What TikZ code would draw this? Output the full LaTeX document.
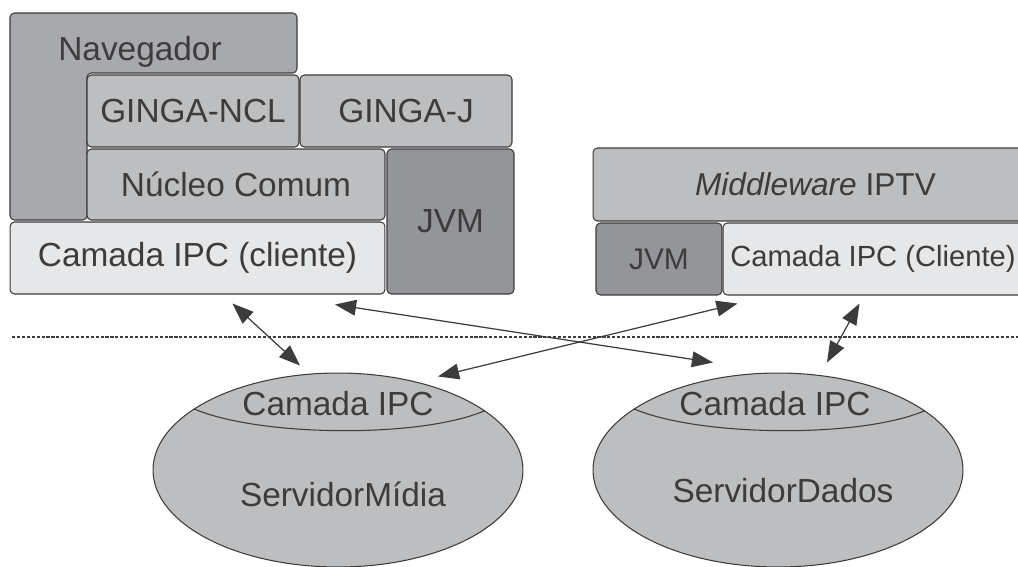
\documentclass[tikz,border=0pt]{standalone}
\usepackage{fontspec}
\setmainfont{Liberation Sans}
\usetikzlibrary{shapes.geometric,arrows.meta}

\definecolor{grayA}{HTML}{E6E7E8}
\definecolor{grayB}{HTML}{BCBEC0}
\definecolor{grayC}{HTML}{A7A9AC}
\definecolor{grayD}{HTML}{939598}
\definecolor{ink}{HTML}{3C3C3C}

\tikzset{
  layer/.style={draw=ink,line width=0.6pt,rounded corners=2.5pt,text=ink,font=\fontsize{19}{23}\selectfont,inner sep=0pt},
  smalltext/.style={font=\fontsize{#1}{21}\selectfont},
  server/.style={ellipse,draw=ink,line width=0.6pt,fill=grayB,minimum width=7.4cm,minimum height=3.88cm,inner sep=0pt},
  label/.style={text=ink,font=\fontsize{19}{23}\selectfont,anchor=base,inner sep=0pt},
  link/.style={draw=ink,line width=0.7pt,<->,>={Triangle[length=12pt,width=9pt]}},
  sep/.style={draw=ink,line width=0.6pt,dash pattern=on 1.8pt off 1pt}
}

\begin{document}
\begin{tikzpicture}[x=0.02cm,y=-0.02cm]
\useasboundingbox (0,0) rectangle (1018,566);

\draw[layer,fill=grayC] (10,13) -- (297,13) -- (297,73) -- (87,73) -- (87,220) -- (10,220) -- cycle;
\node[label] (nav) at (140,60) {Navegador};

\node[layer,fill=grayB,minimum width=4.24cm,minimum height=1.44cm] (ncl) at (193,111) {GINGA-NCL};
\node[layer,fill=grayB,minimum width=4.24cm,minimum height=1.44cm] (gj) at (406,111) {GINGA-J};
\node[layer,fill=grayB,minimum width=5.96cm,minimum height=1.42cm] (nucleo) at (236,184.5) {Núcleo Comum};
\node[layer,fill=grayD,minimum width=2.54cm,minimum height=2.9cm] (jvmL) at (450.5,221.5) {JVM};
\node[layer,fill=grayA,minimum width=7.5cm,minimum height=1.44cm] (ipcL) at (197.5,258) {Camada IPC (cliente)};

\node[layer,smalltext=18,fill=grayB,minimum width=8.9cm,minimum height=1.46cm] (mw) at (815.5,184.5) {\textit{Middleware} IPTV};
\node[layer,smalltext=17,fill=grayD,minimum width=2.52cm,minimum height=1.44cm] (jvmR) at (659,259) {JVM};
\node[layer,smalltext=16.6,fill=grayA,minimum width=6.3cm,minimum height=1.44cm] (ipcR) at (880.5,259) {};
\node[text=ink,smalltext=16.6,anchor=west,inner sep=0pt] (ipcRtext) at (730,259) {Camada IPC (Cliente)};

\coordinate (sepL) at (12,337);
\coordinate (sepR) at (1018,337);
\draw[sep] (sepL) -- (sepR);

\node[server] (sm) at (338,470) {};
\node[server] (sd) at (778,470) {};
\draw[draw=ink,line width=0.6pt] (sm.157.5) .. controls ([shift={(65,28)}]sm.157.5) and ([shift={(-65,28)}]sm.22.5) .. (sm.22.5);
\draw[draw=ink,line width=0.6pt] (sd.157.5) .. controls ([shift={(65,28)}]sd.157.5) and ([shift={(-65,28)}]sd.22.5) .. (sd.22.5);

\node[label] (smipc) at (338,415) {Camada IPC};
\node[label] (smname) at (343,506) {ServidorMídia};
\node[label] (sdipc) at (775,415) {Camada IPC};
\node[label] (sdname) at (783,502) {ServidorDados};

\coordinate (l1a) at ([shift={(35,9)}]ipcL.south);
\coordinate (l1b) at ([shift={(-38,-7)}]sm.north);
\coordinate (l2a) at ([shift={(137.5,10)}]ipcL.south);
\coordinate (l2b) at ([shift={(-65,-10)}]sd.north);
\coordinate (l3a) at ([shift={(100,4)}]sm.north);
\coordinate (l3b) at ([shift={(15,8)}]ipcR.south west);
\coordinate (l4a) at ([shift={(137,8)}]ipcR.south west);
\coordinate (l4b) at ([shift={(49,-10)}]sd.north);

\draw[link] (l1a) -- (l1b);
\draw[link] (l2a) -- (l2b);
\draw[link] (l3a) -- (l3b);
\draw[link] (l4a) -- (l4b);
\end{tikzpicture}
\end{document}
